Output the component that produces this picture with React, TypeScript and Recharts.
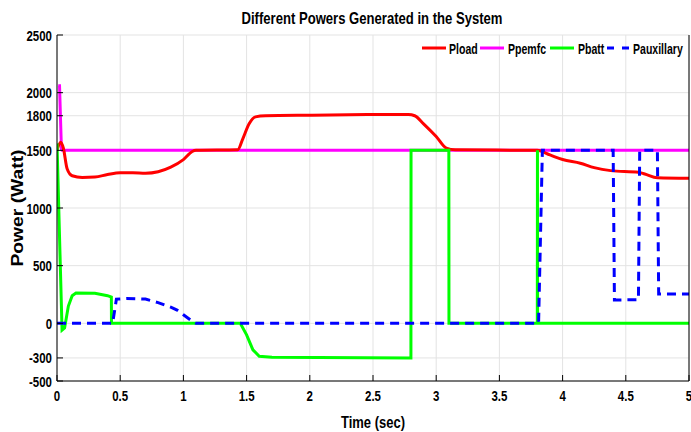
import React from 'react';
import { LineChart, Line, XAxis, YAxis, CartesianGrid, Legend } from 'recharts';

const FONT = "'Liberation Sans',Arial,sans-serif";
const NARROW = 0.74;

const timeTicks = [0, 0.5, 1, 1.5, 2, 2.5, 3, 3.5, 4, 4.5, 5];
const powerTicks = [-500, -300, 0, 500, 1000, 1500, 1800, 2000, 2500];

const loadT = [0, 0.03, 0.05, 0.08, 0.12, 0.2, 0.3, 0.4, 0.5, 0.6, 0.7, 0.8, 0.9, 1.0, 1.07, 1.1, 1.43, 1.47, 1.52, 1.57, 1.65, 2.0, 2.5, 2.78, 2.83, 2.9, 3.0, 3.08, 3.15, 3.8, 3.9, 4.0, 4.14, 4.25, 4.38, 4.6, 4.65, 4.75, 5.0];
const loadP = [1500, 1570, 1520, 1340, 1280, 1265, 1268, 1290, 1305, 1305, 1302, 1315, 1355, 1420, 1490, 1500, 1505, 1600, 1730, 1790, 1800, 1805, 1810, 1810, 1800, 1730, 1620, 1520, 1505, 1500, 1460, 1420, 1388, 1350, 1324, 1310, 1295, 1262, 1257];

const fcT = [0.01, 0.02, 0.035, 0.04, 5];
const fcP = [2060, 2060, 1510, 1500, 1500];

const battT = [0, 0.04, 0.06, 0.09, 0.12, 0.15, 0.3, 0.4, 0.43, 0.431, 1.45, 1.5, 1.55, 1.6, 1.7, 2.8, 2.801, 3.1, 3.101, 3.8, 3.801, 3.802, 5];
const battP = [1560, -58, -40, 150, 240, 262, 260, 240, 228, 0, 0, -100, -230, -285, -295, -300, 1500, 1500, 0, 0, 1500, 0, 0];

const auxT = [0, 0.44, 0.47, 0.55, 0.7, 0.8, 0.9, 0.95, 1.0, 1.08, 1.1, 3.81, 3.84, 4.4, 4.41, 4.6, 4.61, 4.75, 4.76, 5];
const auxP = [0, 0, 210, 215, 210, 180, 140, 115, 75, 10, 0, 0, 1500, 1500, 202, 205, 1500, 1500, 255, 255];

const zip = (t: number[], v: number[]) => t.map((x, i) => ({ t: x, p: v[i] }));

const loadData = zip(loadT, loadP);
const fcData = zip(fcT, fcP);
const battData = zip(battT, battP);
const auxData = zip(auxT, auxP);

const legendItems = [
  { name: 'Pload', color: '#ff0000', dashed: false, lineX: 4, textX: 31 },
  { name: 'Ppemfc', color: '#ff00ff', dashed: false, lineX: 62, textX: 90 },
  { name: 'Pbatt', color: '#00ff00', dashed: false, lineX: 132, textX: 160 },
  { name: 'Pauxillary', color: '#0000ff', dashed: true, lineX: 189, textX: 215 },
];

const LegendContent = () => (
  <svg width={268} height={20} style={{ display: 'block' }}>
    {legendItems.map((it) => (
      <g key={it.name}>
        <line x1={it.lineX} y1={10} x2={it.lineX + 24} y2={10} stroke={it.color} strokeWidth={3}
          strokeDasharray={it.dashed ? '7 8' : undefined} />
        <g transform={`translate(${it.textX},10) scale(0.68,1)`}>
          <text x={0} y={0} dy="0.36em" fontFamily={FONT} fontWeight="bold" fontSize={15.5} fill="#000">{it.name}</text>
        </g>
      </g>
    ))}
  </svg>
);

const XTick = (props: any) => {
  const { x, y, payload } = props;
  return (
    <g transform={`translate(${x},${y})`}>
      <text transform={`scale(${NARROW},1)`} textAnchor="middle" dy="0.71em" fontFamily={FONT} fontWeight="bold" fontSize={15.5} fill="#000">
        {String(payload.value)}
      </text>
    </g>
  );
};

const YTick = (props: any) => {
  const { x, y, payload } = props;
  return (
    <g transform={`translate(${x},${y})`}>
      <text transform={`scale(${NARROW},1)`} textAnchor="end" dy="0.355em" fontFamily={FONT} fontWeight="bold" fontSize={15.5} fill="#000">
        {String(payload.value)}
      </text>
    </g>
  );
};

export default function App() {
  return (
    <div style={{ position: 'absolute', left: 0, top: 0, width: 691, height: 432, background: '#fff', overflow: 'hidden' }}>
      <LineChart width={691} height={432} margin={{ top: 35, right: 1, bottom: 0, left: 0 }} style={{ position: 'absolute', left: 0, top: 0 }}>
        <CartesianGrid stroke="#e3e3e3" strokeWidth={1} horizontalValues={powerTicks} verticalValues={timeTicks} />
        <XAxis dataKey="t" type="number" domain={[0, 5]} ticks={timeTicks} allowDataOverflow height={51}
          stroke="#000" tickSize={-6} tickMargin={15} tick={<XTick />} interval={0} />
        <XAxis xAxisId="top" orientation="top" dataKey="t" type="number" domain={[0, 5]} ticks={timeTicks} height={0}
          stroke="#000" tickSize={-6} tick={false} />
        <YAxis type="number" domain={[-500, 2500]} ticks={powerTicks} allowDataOverflow width={57}
          stroke="#000" tickSize={-6} tickMargin={11} tick={<YTick />} interval={0} />
        <YAxis yAxisId="right" orientation="right" type="number" domain={[-500, 2500]} ticks={powerTicks} width={1}
          stroke="#000" tickSize={-6} tick={false} />
        <Legend layout="vertical" align="center" verticalAlign="middle" content={<LegendContent />}
          wrapperStyle={{ top: 38, left: 418, width: 268, height: 20 }} />
        <Line data={fcData} dataKey="p" name="Ppemfc" stroke="#ff00ff" strokeWidth={3} dot={false} isAnimationActive={false} type="linear" />
        <Line data={loadData} dataKey="p" name="Pload" stroke="#ff0000" strokeWidth={3} dot={false} isAnimationActive={false} type="monotone" />
        <Line data={battData} dataKey="p" name="Pbatt" stroke="#00ff00" strokeWidth={3} dot={false} isAnimationActive={false} type="linear" />
        <Line data={auxData} dataKey="p" name="Pauxillary" stroke="#0000ff" strokeWidth={3} strokeDasharray="9 6" dot={false} isAnimationActive={false} type="linear" />
      </LineChart>
      <svg width={691} height={432} style={{ position: 'absolute', left: 0, top: 0, pointerEvents: 'none' }}>
        <text x={372} y={24} textAnchor="middle" textLength={261} lengthAdjust="spacingAndGlyphs"
          fontFamily={FONT} fontWeight="bold" fontSize={17} fill="#000">Different Powers Generated in the System</text>
        <text x={373} y={428} textAnchor="middle" textLength={64} lengthAdjust="spacingAndGlyphs"
          fontFamily={FONT} fontWeight="bold" fontSize={17} fill="#000">Time (sec)</text>
        <text transform="translate(23,208) rotate(-90)" textAnchor="middle" textLength={117} lengthAdjust="spacingAndGlyphs"
          fontFamily={FONT} fontWeight="bold" fontSize={16} fill="#000">Power (Watt)</text>
      </svg>
    </div>
  );
}
